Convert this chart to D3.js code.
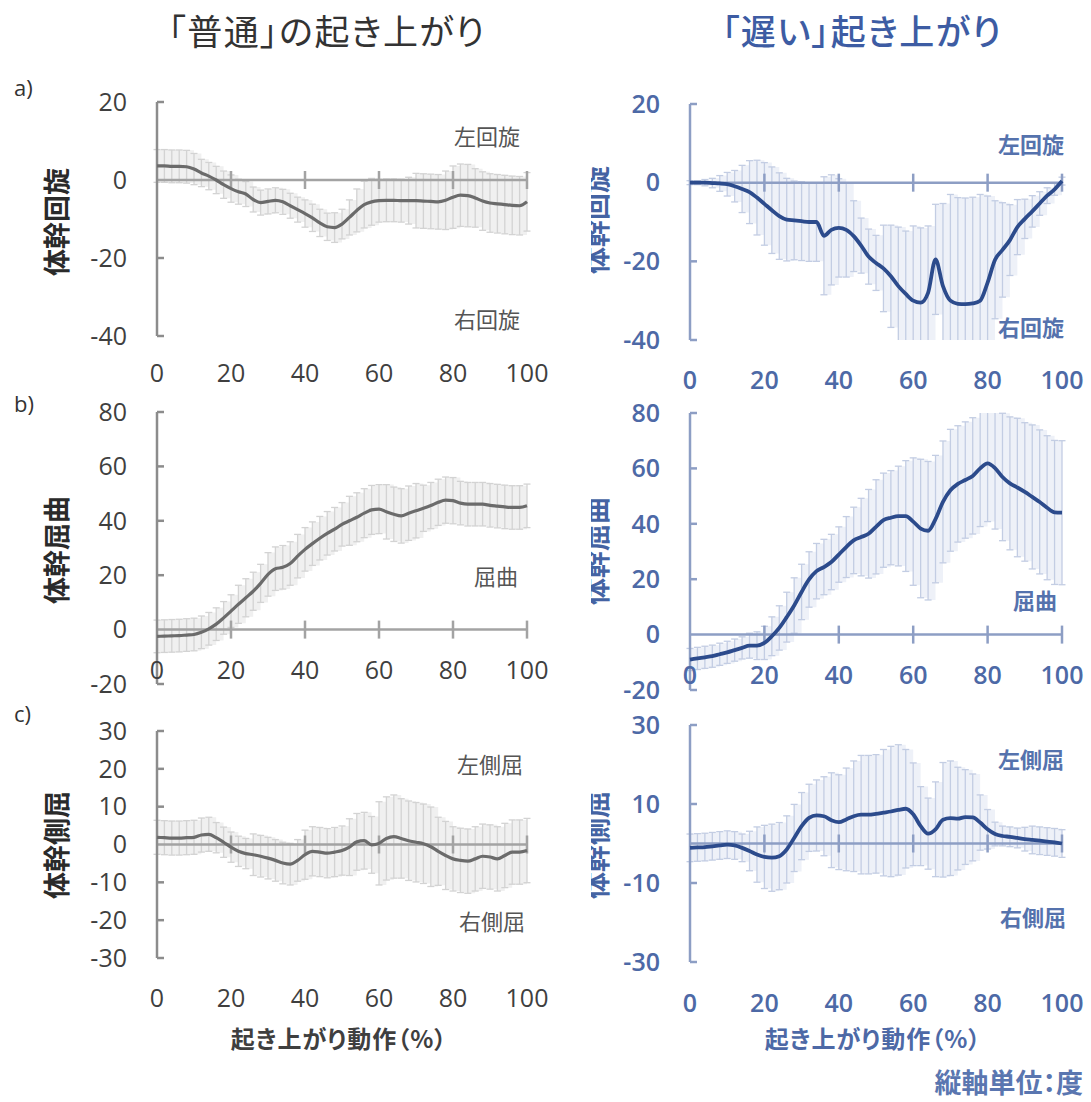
<!DOCTYPE html>
<html>
<head>
<meta charset="utf-8">
<script src="https://cdn.jsdelivr.net/npm/d3@7"></script>
<style>
  body { margin: 0; background: #fff; }
  text { font-family: "Open Sans", "Noto Sans CJK JP", sans-serif; }
  .jp { font-family: "Noto Sans CJK JP", sans-serif; font-feature-settings: "palt"; }
</style>
</head>
<body>
<svg id="chart" width="1091" height="1102"></svg>
<script>
// motion (%) sampled every 2%
const pct = d3.range(0, 101, 2);

// a) trunk rotation - "normal" group
const rotNormalMean = [3.6,3.6,3.5,3.5,3.4,2.8,1.8,1.0,0.0,-1.2,-2.2,-3.0,-3.6,-5.0,-5.8,-5.5,-5.2,-5.6,-6.6,-7.6,-8.6,-9.7,-11.0,-12.0,-12.2,-11.3,-9.6,-7.8,-6.3,-5.6,-5.3,-5.2,-5.2,-5.3,-5.3,-5.3,-5.4,-5.5,-5.6,-5.2,-4.4,-3.9,-4.0,-4.6,-5.4,-5.9,-6.1,-6.3,-6.5,-6.6,-5.6];
const rotNormalSd = [4.2,4.2,4.2,4.2,4.2,4.0,3.5,3.5,3.5,3.5,3.5,3.2,3.2,3.2,3.2,3.2,3.2,3.2,3.2,3.2,3.5,3.5,3.5,3.5,3.8,3.8,4.5,5.5,6,6,5.5,5.5,5.5,5.5,6,7,7,7,7,7.5,8,8,8,7.5,7.5,7.5,7.5,7.5,7.5,7.5,7.5];
// a) trunk rotation - "slow" group
const rotSlowMean = [0,0,0,-0.1,-0.2,-0.4,-0.9,-1.6,-2.4,-3.8,-5.4,-7.0,-8.5,-9.4,-9.6,-9.8,-10.0,-10.0,-13.5,-12.0,-11.5,-12.0,-13.6,-16.0,-18.8,-20.4,-21.8,-23.8,-26.3,-28.3,-30.0,-30.5,-28.0,-19.5,-26.3,-30.0,-30.8,-30.9,-30.7,-30.0,-25.4,-19.6,-17.1,-14.6,-11.3,-9.2,-7.3,-5.3,-3.3,-1.7,0.4];
const rotSlowSd = [0.5,0.5,0.8,1.2,2,3,4,6,8,9.5,10.5,11,11,10.5,10,10,10,10,15,14,12.5,12,9,7,7,7,11,13,15,16,19,19,17,14,21,27,27,27,27,27,22,15,12,9,7,5,4,3,2,1.5,1];

// b) trunk flexion
const flexNormalMean = [-2.5,-2.4,-2.3,-2.2,-2.0,-1.8,-1.0,0.3,2.0,4.3,6.8,9.3,11.7,14.1,17.0,20.3,22.4,22.9,24.3,27.0,29.5,31.6,33.6,35.4,36.9,38.7,40.0,41.3,42.8,44.0,44.3,43.3,42.4,41.8,42.8,43.7,44.6,45.6,46.8,47.6,47.4,46.5,46.1,46.1,46.1,45.7,45.4,45.1,44.9,44.9,45.5];
const flexNormalSd = [6,6,6,6,6,6,6,6,6,6,6,7,7,7,7,8,8,8,8,8,8,8,8,8,8,8,9,9,9,9,9,10,10,10,10,10,8.5,8.5,8.5,8.5,8.5,8,8,8,8,8,8,8,8,8,8];
const flexSlowMean = [-9.0,-8.6,-8.2,-7.8,-7.1,-6.4,-5.6,-4.8,-4.0,-4.0,-3.0,-0.6,2.4,6.3,10.5,15.4,19.9,22.9,24.4,26.2,28.9,31.6,34.0,35.2,36.4,38.9,41.3,42.2,42.8,42.8,40.8,38.3,37.5,41.7,47.9,52.1,54.4,55.8,57.3,60.0,61.8,60.1,56.9,54.6,53.1,51.5,49.7,47.9,45.8,44.1,44.0];
const flexSlowSd = [4,4,4,4,4,4,4,4,4.5,5,6,7,8,9,10,10,10,10,10,10,10,11,12,14,16,17,17,17,18,20,23,25,25,23,22,22,21,21,21,21,21,22,23,24,25,25,26,26,26,26,26];

// c) trunk lateral flexion
const latNormalMean = [1.9,1.8,1.7,1.7,1.8,1.9,2.5,2.7,1.8,0.6,-0.7,-1.8,-2.4,-2.7,-3.1,-3.6,-4.2,-4.9,-5.2,-4.2,-2.7,-1.8,-2.0,-2.3,-2.0,-1.6,-0.7,0.7,1.0,-0.1,0.3,1.6,2.1,1.6,1.0,0.6,0.2,-0.6,-1.8,-2.9,-3.8,-4.2,-4.4,-3.8,-3.1,-3.3,-3.8,-2.9,-2.0,-2.0,-1.6];
const latNormalSd = [4.5,4.5,4.5,4.5,4.5,4.5,4.5,4.5,4,4,4,4,4,5.5,5.5,5.5,5.5,5.5,5.5,5.5,6.5,6.5,6.5,6.5,6.5,6.5,7.5,7.5,7.5,7.5,11,11,11,10.5,10.5,10.5,10.5,10.5,9,9,8.5,8.5,8.5,8.5,8.5,8.5,8.5,8.5,8.5,8.5,8.5];
const latSlowMean = [-1.1,-1.0,-0.9,-0.7,-0.5,-0.3,-0.5,-1.1,-1.9,-2.8,-3.4,-3.6,-3.2,-1.5,1.4,4.4,6.5,7.1,6.9,5.9,5.4,6.1,6.9,7.3,7.3,7.5,7.8,8.1,8.5,8.8,7.4,4.4,2.5,3.6,6.0,6.4,6.3,6.7,6.6,5.3,3.6,2.4,1.9,1.7,1.4,1.1,0.9,0.7,0.5,0.3,0.0];
const latSlowSd = [3.5,3.5,3.5,3.5,3.5,3.5,3.5,3.5,5,7,8,8.5,8.5,8.5,8.5,8.5,8.5,9,10,12,12,13,14,15,15,15,16,16.5,16.5,15,13,10,9,12,14.5,14.5,13,12,11,7,5,3,2.5,2.5,2.5,3,3.5,3.5,3.5,3.5,3.5];

// tick labels
const xTicks = [0, 20, 40, 60, 80, 100];
const yTicksRot = [20, 0, -20, -40];
const yTicksFlex = [80, 60, 40, 20, 0, -20];
const yTicksLatNormal = [30, 20, 10, 0, -10, -20, -30];
const yTicksLatSlow = [30, 10, -10, -30];

const titleNormal = "「普通」の起き上がり";
const titleSlow = "「遅い」起き上がり";
const xTitle = "起き上がり動作（%）";
const unitNote = "縦軸単位：度";

// colour sets for the two columns
const styles = {
  N: { axis: "#8c8c8c", zero: "#a3a3a3", mean: "#6b6b6b", bar: "#d3d3d3", band: "#f0f0f0",
       text: "#3f3f3f", label: "#555", weight: 400 },
  S: { axis: "#8d9ec4", zero: "#8d9ec4", mean: "#2c4b8c", bar: "#c3cde3", band: "#eef1f8",
       text: "#4d69a6", label: "#5572ad", weight: 600 }
};

const panels = [
  { col: "N", mean: rotNormalMean, sd: rotNormalSd, dom: [-40, 20], ticks: yTicksRot,
    xr: [157, 527], yr: [336, 102], xlabY: 373, ytitle: "体幹回旋", ytY: 222,
    notes: [["左回旋", 520, 137], ["右回旋", 520, 320]], letter: ["a)", 88] },
  { col: "S", mean: rotSlowMean, sd: rotSlowSd, dom: [-40, 20], ticks: yTicksRot,
    xr: [690, 1062], yr: [340, 104], xlabY: 380, ytitle: "体幹回旋", ytY: 220,
    notes: [["左回旋", 1064, 145], ["右回旋", 1064, 328]] },
  { col: "N", mean: flexNormalMean, sd: flexNormalSd, dom: [-20, 80], ticks: yTicksFlex,
    xr: [157, 527], yr: [684, 412], xlabY: 670, ytitle: "体幹屈曲", ytY: 550,
    notes: [["屈曲", 518, 577]], letter: ["b)", 404] },
  { col: "S", mean: flexSlowMean, sd: flexSlowSd, dom: [-20, 80], ticks: yTicksFlex,
    xr: [690, 1062], yr: [690, 413], xlabY: 675, ytitle: "体幹屈曲", ytY: 551,
    notes: [["屈曲", 1057, 601]] },
  { col: "N", mean: latNormalMean, sd: latNormalSd, dom: [-30, 30], ticks: yTicksLatNormal,
    xr: [157, 527], yr: [958, 731], xlabY: 998, ytitle: "体幹側屈", ytY: 845,
    notes: [["左側屈", 523, 765], ["右側屈", 525, 922]], letter: ["c)", 714], xtitle: true },
  { col: "S", mean: latSlowMean, sd: latSlowSd, dom: [-30, 30], ticks: yTicksLatSlow,
    xr: [690, 1062], yr: [962, 725], xlabY: 1003, ytitle: "体幹側屈", ytY: 845,
    notes: [["左側屈", 1064, 760], ["右側屈", 1066, 918]], xtitle: true }
];

const svg = d3.select("#chart");

// column titles
svg.append("text").attr("class", "jp").attr("x", 327).attr("y", 33).attr("dy", "0.35em")
  .attr("text-anchor", "middle").attr("font-size", 35).attr("letter-spacing", 1.5)
  .attr("fill", "#333").text(titleNormal);
svg.append("text").attr("class", "jp").attr("x", 862).attr("y", 33).attr("dy", "0.35em")
  .attr("text-anchor", "middle").attr("font-size", 35).attr("letter-spacing", 1.5)
  .attr("fill", "#3d5ca3").attr("font-weight", 500).text(titleSlow);

// clip for the half-hidden y titles of the right column
svg.append("clipPath").attr("id", "rclip")
  .append("rect").attr("x", 591).attr("y", 0).attr("width", 60).attr("height", 1102);

panels.forEach(function (p) {
  const st = styles[p.col];
  const x = d3.scaleLinear().domain([0, 100]).range(p.xr);
  const y = d3.scaleLinear().domain(p.dom).range(p.yr).clamp(true);
  const g = svg.append("g");
  const pts = pct.map(function (v, i) { return { x: v, m: p.mean[i], s: p.sd[i] }; });

  // sd band
  g.append("path")
    .datum(pts)
    .attr("fill", st.band)
    .attr("d", d3.area()
      .x(function (d) { return x(d.x); })
      .y0(function (d) { return y(d.m - d.s); })
      .y1(function (d) { return y(d.m + d.s); })
      .curve(d3.curveStepAfter));

  // error bars
  const bars = g.append("g").attr("stroke", st.bar).attr("stroke-width", 1.3);
  bars.selectAll("line.v").data(pts).enter().append("line")
    .attr("x1", function (d) { return x(d.x); }).attr("x2", function (d) { return x(d.x); })
    .attr("y1", function (d) { return y(d.m - d.s); })
    .attr("y2", function (d) { return y(d.m + d.s); });
  [-1, 1].forEach(function (sgn) {
    bars.selectAll("line.c" + sgn).data(pts.filter(function (d) {
      const v = d.m + sgn * d.s; return v >= p.dom[0] && v <= p.dom[1];
    })).enter().append("line")
      .attr("x1", function (d) { return x(d.x) - 3.5; })
      .attr("x2", function (d) { return x(d.x) + 3.5; })
      .attr("y1", function (d) { return y(d.m + sgn * d.s); })
      .attr("y2", function (d) { return y(d.m + sgn * d.s); });
  });

  // zero line with crossing ticks
  g.append("line").attr("x1", x(0)).attr("x2", x(100)).attr("y1", y(0)).attr("y2", y(0))
    .attr("stroke", st.zero).attr("stroke-width", 2.5);
  g.selectAll("line.xt").data(xTicks.slice(1)).enter().append("line")
    .attr("x1", function (d) { return x(d); }).attr("x2", function (d) { return x(d); })
    .attr("y1", y(0) - 9).attr("y2", y(0) + 9)
    .attr("stroke", st.zero).attr("stroke-width", 2.5);

  // y axis, ticks pointing into the plot
  g.append("line").attr("x1", x(0)).attr("x2", x(0)).attr("y1", y(p.dom[0])).attr("y2", y(p.dom[1]))
    .attr("stroke", st.axis).attr("stroke-width", 2.5);
  g.selectAll("line.yt").data(p.ticks.filter(function (t) { return t !== 0; })).enter().append("line")
    .attr("x1", x(0)).attr("x2", x(0) + 7)
    .attr("y1", function (d) { return y(d); }).attr("y2", function (d) { return y(d); })
    .attr("stroke", st.axis).attr("stroke-width", 2.5);

  // mean curve
  g.append("path")
    .datum(pts)
    .attr("fill", "none")
    .attr("stroke", st.mean)
    .attr("stroke-width", p.col === "S" ? 3.8 : 3.2)
    .attr("stroke-linejoin", "round")
    .attr("d", d3.line()
      .x(function (d) { return x(d.x); })
      .y(function (d) { return y(d.m); })
      .curve(d3.curveMonotoneX));

  // tick labels
  g.selectAll("text.yl").data(p.ticks).enter().append("text")
    .attr("x", x(0) - 30).attr("y", function (d) { return y(d); }).attr("dy", "0.35em")
    .attr("text-anchor", "end").attr("font-size", 25)
    .attr("font-weight", st.weight).attr("fill", st.text)
    .text(function (d) { return d; });
  g.selectAll("text.xl").data(xTicks).enter().append("text")
    .attr("x", function (d) { return x(d); }).attr("y", p.xlabY).attr("dy", "0.35em")
    .attr("text-anchor", "middle").attr("font-size", 25)
    .attr("font-weight", st.weight).attr("fill", st.text)
    .text(function (d) { return d; });

  // y title (rotated); right column is partly hidden as in the source
  const tx = p.col === "N" ? 58 : 598;
  const holder = g.append("g");
  if (p.col === "S") holder.attr("clip-path", "url(#rclip)");
  holder.append("text").attr("class", "jp")
    .attr("transform", "translate(" + tx + "," + p.ytY + ") rotate(-90)")
    .attr("dy", "0.35em").attr("text-anchor", "middle")
    .attr("font-size", 27).attr("font-weight", 700)
    .attr("fill", p.col === "N" ? "#2a2a2a" : "#4463a3")
    .text(p.ytitle);

  // side notes
  p.notes.forEach(function (n) {
    g.append("text").attr("x", n[1]).attr("y", n[2]).attr("dy", "0.35em")
      .attr("text-anchor", "end").attr("font-size", 22)
      .attr("font-weight", p.col === "S" ? 700 : 400).attr("fill", st.label)
      .text(n[0]);
  });

  if (p.letter) {
    g.append("text").attr("x", 14).attr("y", p.letter[1]).attr("dy", "0.35em")
      .attr("font-size", 22).attr("fill", "#333").text(p.letter[0]);
  }

  if (p.xtitle) {
    g.append("text").attr("class", "jp").attr("x", (p.xr[0] + p.xr[1]) / 2 - 3).attr("y", 1040)
      .attr("dy", "0.35em").attr("text-anchor", "middle")
      .attr("font-size", 24).attr("letter-spacing", 1).attr("font-weight", 700)
      .attr("fill", p.col === "N" ? "#3f3f3f" : "#4d69a6")
      .text(xTitle);
  }
});

svg.append("text").attr("class", "jp").attr("x", 1083).attr("y", 1084).attr("dy", "0.35em")
  .attr("text-anchor", "end").attr("font-size", 27).attr("font-weight", 700)
  .attr("fill", "#5a76b0").text(unitNote);
</script>
</body>
</html>
